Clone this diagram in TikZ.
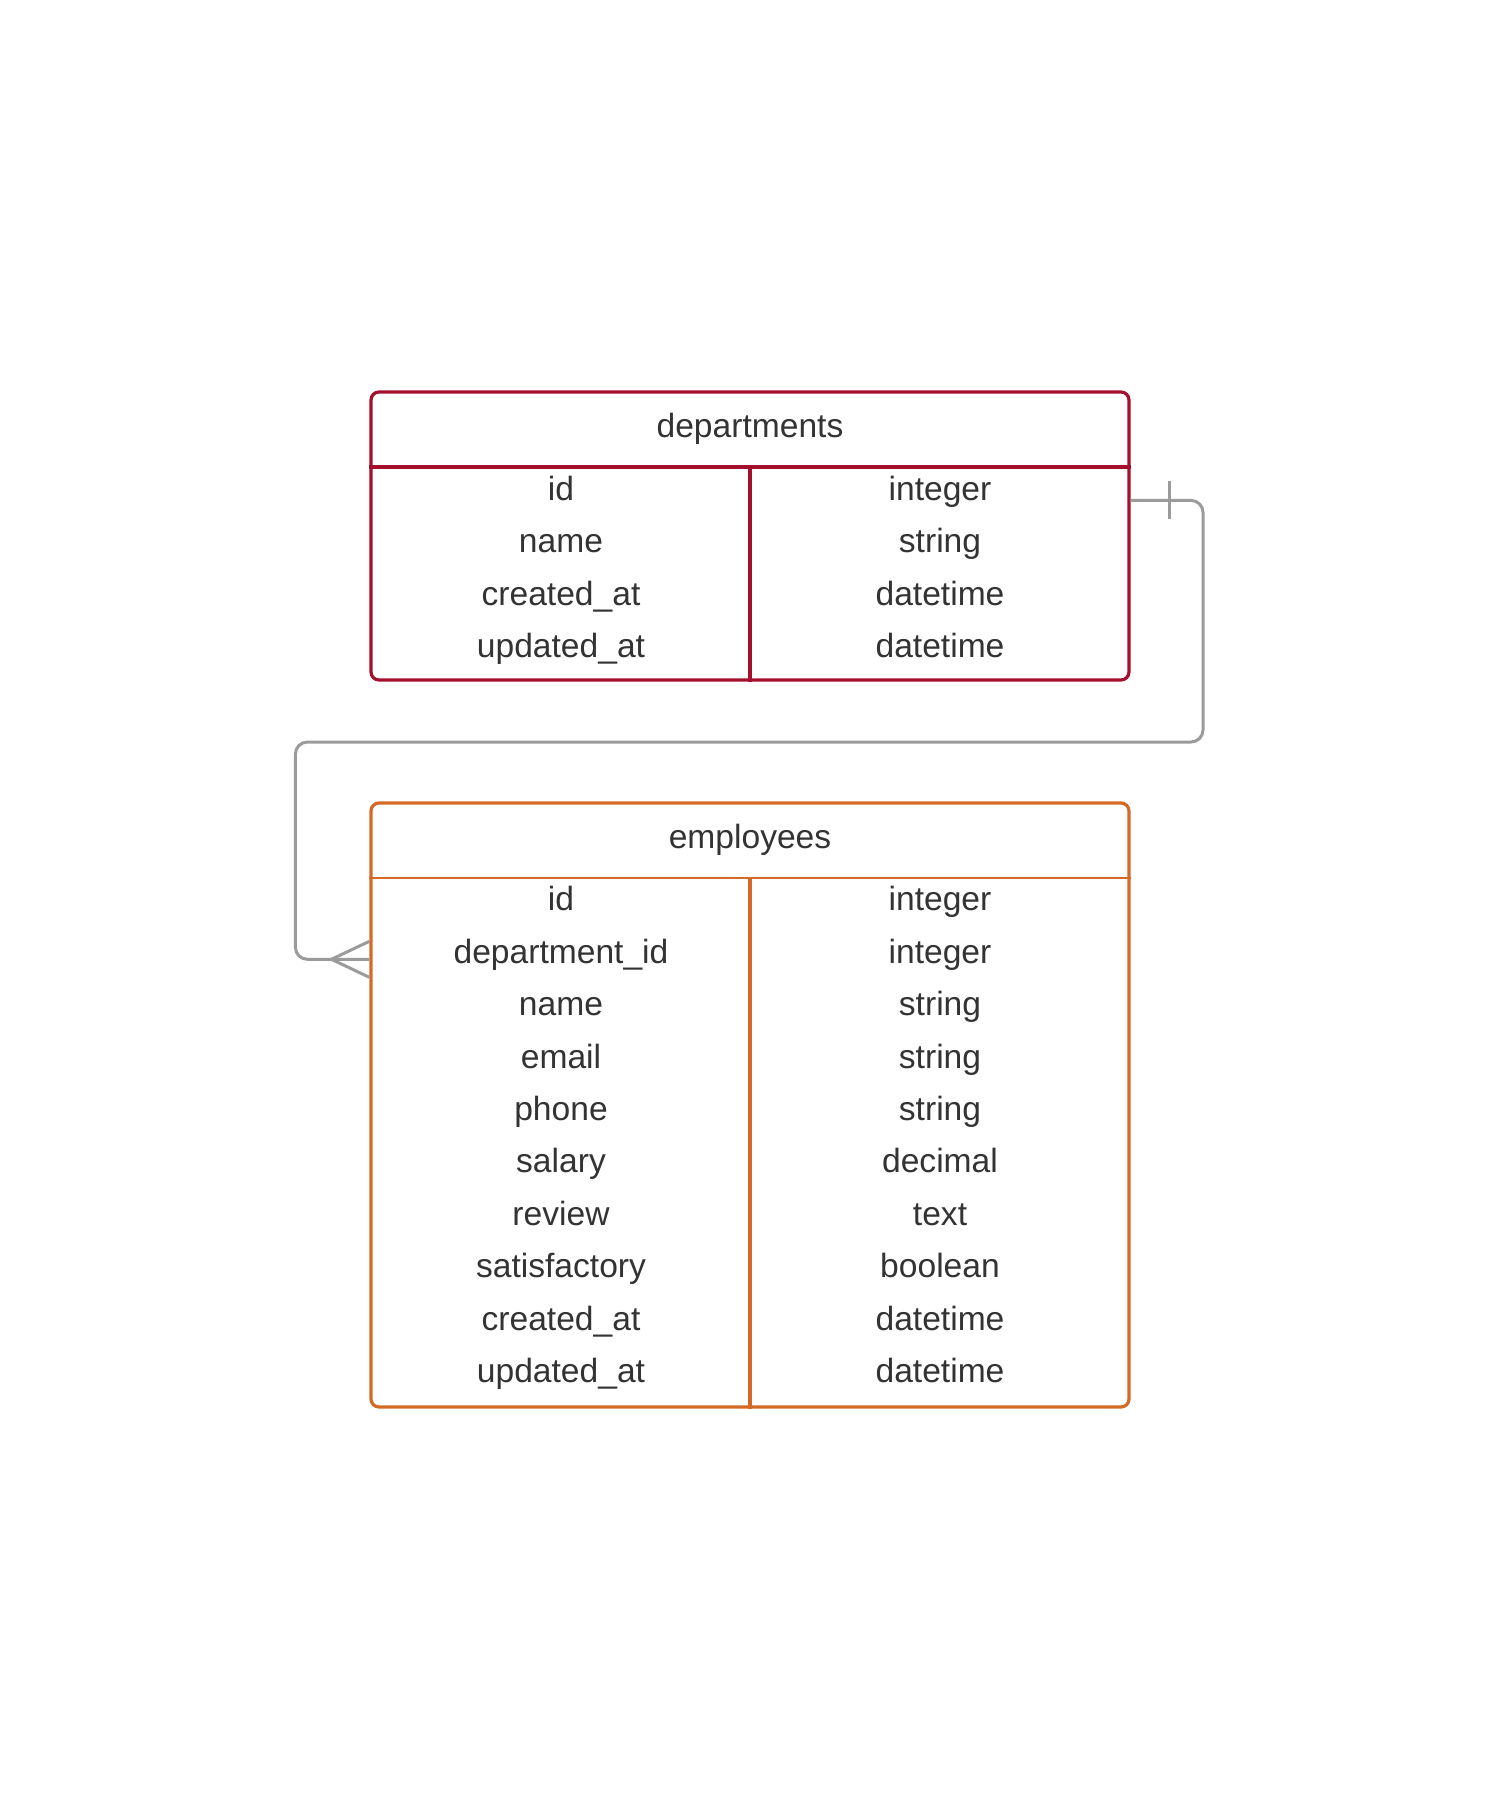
\documentclass[tikz,border=0pt]{standalone}
\usepackage{fontspec}
\setmainfont{Liberation Sans}
\usetikzlibrary{positioning}

\definecolor{deptred}{RGB}{163,16,45}
\definecolor{emporange}{RGB}{211,107,38}
\definecolor{linkgray}{RGB}{155,155,155}
\definecolor{textgray}{RGB}{51,51,51}

\tikzset{
  tablebox/.style={draw, line width=1.6pt, rounded corners=4pt, inner sep=0pt},
  field/.style={anchor=base, inner sep=0pt, text=textgray,
    font=\fontsize{16.8}{20}\selectfont},
  link/.style={draw=linkgray, line width=1.5pt}
}

\begin{document}
\begin{tikzpicture}[x=0.5pt,y=-0.5pt]
  \useasboundingbox (0,0) rectangle (1500,1800);

  % departments
  \node[tablebox, draw=deptred, minimum width=379pt, minimum height=144pt] (dep) at (750,536) {};
  \draw[deptred, line width=1.6pt] (dep.west |- 0,467) -- (dep.east |- 0,467);
  \draw[deptred, line width=1.6pt] (dep.north |- 0,467) -- (dep.south);
  \node[field] (dep-title) at (750,437) {departments};
  \foreach \fname/\ftype [count=\i] in {id/integer,
    name/string,
    created\_at/datetime,
    updated\_at/datetime}
  {
    \node[field] (dep-f\i) at (561,{448+52.4*\i}) {\fname};
    \node[field] (dep-t\i) at (940,{448+52.4*\i}) {\ftype};
  }

  % employees
  \node[tablebox, draw=emporange, minimum width=379pt, minimum height=302pt] (emp) at (750,1105) {};
  \draw[emporange, line width=1pt] (emp.west |- 0,878) -- (emp.east |- 0,878);
  \draw[emporange, line width=1.6pt] (emp.north |- 0,878) -- (emp.south);
  \node[field] (emp-title) at (750,848) {employees};
  \foreach \fname/\ftype [count=\i] in {id/integer,
    department\_id/integer,
    name/string,
    email/string,
    phone/string,
    salary/decimal,
    review/text,
    satisfactory/boolean,
    created\_at/datetime,
    updated\_at/datetime}
  {
    \node[field] (emp-f\i) at (561,{858.5+52.4*\i}) {\fname};
    \node[field] (emp-t\i) at (940,{858.5+52.4*\i}) {\ftype};
  }

  % relation: one department, many employees
  \coordinate (one) at (dep.east |- dep-f1.base);
  \coordinate (many) at ([yshift=2pt]emp.west |- emp-f2.base);
  \draw[link, rounded corners=6pt] (one) -| (1203,742) -| ([xshift=-37pt]many) -- (many);
  \draw[link] ([shift={(39,-19)}]one) -- ++(0,38);
  \draw[link] ([shift={(0,-18)}]many) -- ([shift={(-38,0)}]many) -- ([shift={(0,18)}]many);
\end{tikzpicture}
\end{document}
